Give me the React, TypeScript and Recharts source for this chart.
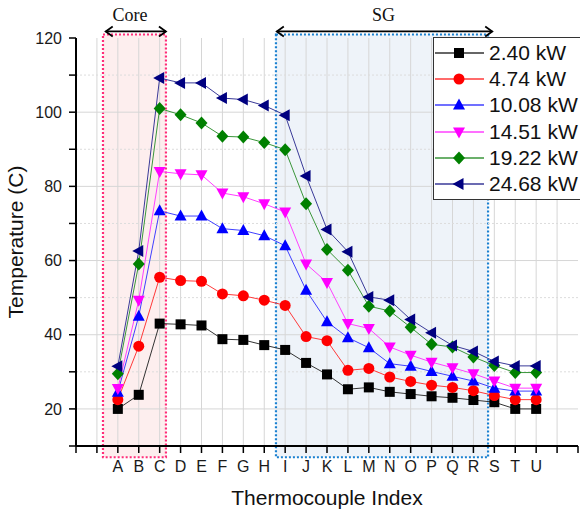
import React from 'react';
import {
  LineChart,
  Line,
  XAxis,
  YAxis,
  ReferenceArea,
  ReferenceLine,
  ReferenceDot,
  Legend,
  Label,
} from 'recharts';

// thermocouple labels, placed at axis positions 2..22
const LETTERS = ['A', 'B', 'C', 'D', 'E', 'F', 'G', 'H', 'I', 'J', 'K', 'L', 'M', 'N', 'O', 'P', 'Q', 'R', 'S', 'T', 'U'];
const X_TICKS = [0, 1, 2, 3, 4, 5, 6, 7, 8, 9, 10, 11, 12, 13, 14, 15, 16, 17, 18, 19, 20, 21, 22, 23, 24];
const Y_TICKS = [10, 20, 30, 40, 50, 60, 70, 80, 90, 100, 110, 120];
const Y_MAJOR = [20, 40, 60, 80, 100];
const Y_MINOR = [30, 50, 70, 90, 110];
const X_GRID = [1, 2, 3, 4, 5, 6, 7, 8, 9, 10, 11, 12, 13, 14, 15, 16, 17, 18, 19, 20, 21, 22, 23];

const P240 = [20.0, 23.8, 43.0, 42.8, 42.5, 38.8, 38.6, 37.2, 35.9, 32.4, 29.3, 25.3, 25.8, 24.6, 24.0, 23.4, 23.0, 22.4, 21.8, 20.0, 20.0];
const P474 = [22.5, 36.9, 55.5, 54.6, 54.4, 51.0, 50.5, 49.3, 47.9, 39.5, 38.4, 30.4, 30.9, 28.6, 27.4, 26.4, 25.8, 24.9, 23.6, 22.5, 22.5];
const P1008 = [24.5, 45.0, 73.4, 72.0, 72.0, 68.6, 68.1, 66.7, 64.0, 52.0, 43.5, 39.2, 36.5, 32.2, 31.5, 30.1, 28.8, 27.5, 25.6, 24.8, 24.8];
const P1451 = [25.5, 49.3, 84.0, 83.4, 83.1, 78.2, 77.2, 75.3, 73.1, 59.1, 54.1, 43.0, 41.7, 36.7, 34.5, 32.6, 31.1, 29.5, 27.5, 25.6, 25.6];
const P1922 = [29.5, 59.1, 101.0, 99.3, 97.1, 93.5, 93.3, 91.8, 89.9, 75.3, 63.0, 57.4, 47.7, 46.4, 42.0, 37.4, 36.7, 34.0, 31.7, 29.8, 29.8];
const P2468 = [31.5, 62.6, 109.2, 107.9, 107.9, 103.8, 103.4, 101.8, 99.2, 82.8, 68.4, 62.4, 50.2, 49.3, 44.1, 40.5, 37.1, 35.5, 32.8, 31.6, 31.6];

const SERIES = [
  { key: 'p240', name: '2.40 kW', color: '#000000', line: '#333333', shape: 'square', values: P240 },
  { key: 'p474', name: '4.74 kW', color: '#ff0000', line: '#ff3a3a', shape: 'circle', values: P474 },
  { key: 'p1008', name: '10.08 kW', color: '#0000ff', line: '#4040ff', shape: 'up', values: P1008 },
  { key: 'p1451', name: '14.51 kW', color: '#ff00ff', line: '#ff40ff', shape: 'down', values: P1451 },
  { key: 'p1922', name: '19.22 kW', color: '#008000', line: '#3a963a', shape: 'diamond', values: P1922 },
  { key: 'p2468', name: '24.68 kW', color: '#000080', line: '#3a3a98', shape: 'left', values: P2468 },
];

// annotated regions (in axis units)
const REGIONS = [
  { name: 'Core', x1: 1.29, x2: 4.3, arrowFrom: 1.42, arrowTo: 4.3, labelAt: 2.58, fill: '#fdeeee', stroke: '#ff2d78' },
  { name: 'SG', x1: 9.56, x2: 19.7, arrowFrom: 9.6, arrowTo: 19.9, labelAt: 14.7, fill: '#eef3f9', stroke: '#1a80d0' },
];

const data = LETTERS.map((label, i) => {
  const row: Record<string, number | string> = { x: i + 2, label };
  SERIES.forEach((s) => {
    row[s.key] = s.values[i];
  });
  return row;
});

const FONT = '"Liberation Sans", Arial, sans-serif';
const SERIF = '"Liberation Serif", "Times New Roman", serif';

const Marker = ({ cx, cy, shape, color }: { cx: number; cy: number; shape: string; color: string }) => {
  if (cx == null || cy == null) return null;
  switch (shape) {
    case 'square':
      return <rect x={cx - 5} y={cy - 5} width={10} height={10} fill={color} />;
    case 'circle':
      return <circle cx={cx} cy={cy} r={5.5} fill={color} />;
    case 'up':
      return <polygon points={`${cx},${cy - 6.5} ${cx + 6},${cy + 4.5} ${cx - 6},${cy + 4.5}`} fill={color} />;
    case 'down':
      return <polygon points={`${cx - 6},${cy - 4.5} ${cx + 6},${cy - 4.5} ${cx},${cy + 6.5}`} fill={color} />;
    case 'diamond':
      return <polygon points={`${cx},${cy - 6.5} ${cx + 6},${cy} ${cx},${cy + 6.5} ${cx - 6},${cy}`} fill={color} />;
    default:
      return <polygon points={`${cx - 6.5},${cy} ${cx + 4.5},${cy - 6} ${cx + 4.5},${cy + 6}`} fill={color} />;
  }
};

const Arrow = (props: any) => {
  const { x1, y1, x2, y2 } = props;
  return (
    <g>
      <line x1={x1} y1={y1} x2={x2} y2={y2} stroke="#000" strokeWidth={1.8} />
      <polyline points={`${x1 + 7},${y1 - 5} ${x1},${y1} ${x1 + 7},${y1 + 5}`} fill="none" stroke="#000" strokeWidth={1.8} />
      <polyline points={`${x2 - 7},${y2 - 5} ${x2},${y2} ${x2 - 7},${y2 + 5}`} fill="none" stroke="#000" strokeWidth={1.8} />
    </g>
  );
};

const LegendBox = () => (
  <div
    style={{
      border: '1.5px solid #333',
      background: '#fff',
      width: 160,
      height: 163,
      boxSizing: 'border-box',
      paddingTop: 1.5,
      fontFamily: FONT,
    }}
  >
    {SERIES.map((s) => (
      <div key={s.key} style={{ display: 'flex', alignItems: 'center', height: 26.3 }}>
        <svg width={52} height={20} style={{ display: 'block' }}>
          <line x1={1} x2={50} y1={10} y2={10} stroke={s.line} strokeWidth={1.5} />
          <Marker cx={25} cy={10} shape={s.shape} color={s.color} />
        </svg>
        <span style={{ fontSize: 21, marginLeft: 3, color: '#111', whiteSpace: 'nowrap' }}>{s.name}</span>
      </div>
    ))}
  </div>
);

const YTitle = (props: any) => {
  const { x, y, height } = props.viewBox;
  const cx = x + 15.5;
  const cy = y + height / 2;
  return (
    <text x={cx} y={cy} transform={`rotate(-90 ${cx} ${cy})`} textAnchor="middle" dominantBaseline="central"
      style={{ fontFamily: FONT, fontSize: 21, fill: '#111' }}>
      Temperature (C)
    </text>
  );
};

const XTitle = (props: any) => {
  const { x, y, width } = props.viewBox;
  return (
    <text x={x + width / 2} y={y + 51} textAnchor="middle" dominantBaseline="central"
      style={{ fontFamily: FONT, fontSize: 21, fill: '#111' }}>
      Thermocouple Index
    </text>
  );
};

export default function App() {
  return (
    <div style={{ position: 'absolute', left: 0, top: 0, width: 580, height: 512, overflow: 'hidden', background: '#fff' }}>
      <LineChart width={580} height={512} data={data} margin={{ top: 38, right: 2, bottom: 36, left: 0 }}>
        <XAxis
          dataKey="x"
          type="number"
          domain={[0, 24]}
          ticks={X_TICKS}
          interval={0}
          tickFormatter={(v: number) => LETTERS[v - 2] ?? ''}
          tickSize={7}
          tickMargin={8}
          height={30}
          axisLine={{ stroke: '#000', strokeWidth: 2 }}
          tickLine={{ stroke: '#000', strokeWidth: 1.5 }}
          tick={{ fontSize: 16, fill: '#1a1a1a', fontFamily: FONT }}
        >
          <Label content={XTitle} />
        </XAxis>
        <XAxis
          xAxisId="top"
          orientation="top"
          type="number"
          domain={[0, 24]}
          ticks={X_TICKS}
          interval={0}
          mirror
          height={0}
          tickSize={8}
          tickFormatter={() => ''}
          axisLine={{ stroke: '#000', strokeWidth: 2 }}
          tickLine={{ stroke: '#000', strokeWidth: 1.5 }}
        />
        <YAxis
          type="number"
          domain={[10, 120]}
          ticks={Y_TICKS}
          interval={0}
          width={76}
          tickSize={7}
          tickMargin={7}
          tickFormatter={(v: number) => (v % 20 === 0 ? String(v) : '')}
          axisLine={{ stroke: '#000', strokeWidth: 2 }}
          tickLine={{ stroke: '#000', strokeWidth: 1.5 }}
          tick={{ fontSize: 16, fill: '#1a1a1a', fontFamily: FONT }}
        >
          <Label content={YTitle} />
        </YAxis>
        <YAxis
          yAxisId="right"
          orientation="right"
          type="number"
          domain={[10, 120]}
          ticks={Y_TICKS}
          interval={0}
          mirror
          width={0}
          tickSize={8}
          tickFormatter={() => ''}
          axisLine={{ stroke: '#000', strokeWidth: 2 }}
          tickLine={{ stroke: '#000', strokeWidth: 1.5 }}
        />

        {REGIONS.map((r) => (
          <ReferenceArea
            key={r.name}
            x1={r.x1}
            x2={r.x2}
            y1={6.97}
            y2={120.95}
            ifOverflow="visible"
            fill={r.fill}
            fillOpacity={1}
            stroke={r.stroke}
            strokeWidth={2.2}
            strokeDasharray="2 2"
          />
        ))}

        {X_GRID.map((v) => (
          <ReferenceLine key={`gx${v}`} x={v} stroke="#d6d6d6" strokeWidth={1} />
        ))}
        {Y_MAJOR.map((v) => (
          <ReferenceLine key={`gy${v}`} y={v} stroke="#d6d6d6" strokeWidth={1} />
        ))}
        {Y_MINOR.map((v) => (
          <ReferenceLine key={`gm${v}`} y={v} stroke="#dcdcdc" strokeWidth={1} strokeDasharray="2 2" />
        ))}

        {SERIES.map((s) => (
          <Line
            key={s.key}
            type="linear"
            dataKey={s.key}
            name={s.name}
            stroke={s.line}
            strokeWidth={1}
            isAnimationActive={false}
            activeDot={false}
            dot={(p: any) => <Marker key={`${s.key}-${p.index}`} cx={p.cx} cy={p.cy} shape={s.shape} color={s.color} />}
          />
        ))}

        {REGIONS.map((r) => (
          <ReferenceLine
            key={`arrow-${r.name}`}
            segment={[{ x: r.arrowFrom, y: 121.76 }, { x: r.arrowTo, y: 121.76 }]}
            ifOverflow="visible"
            shape={Arrow}
          />
        ))}
        {REGIONS.map((r) => (
          <ReferenceDot
            key={`lbl-${r.name}`}
            x={r.labelAt}
            y={126.3}
            r={0}
            ifOverflow="visible"
            stroke="none"
            label={{ value: r.name, position: 'center', fontSize: 18, fill: '#111', fontFamily: SERIF }}
          />
        ))}

        <Legend
          layout="horizontal"
          verticalAlign="middle"
          content={LegendBox}
          wrapperStyle={{ top: 37, left: 433, width: 160, height: 163 }}
        />
      </LineChart>
    </div>
  );
}
